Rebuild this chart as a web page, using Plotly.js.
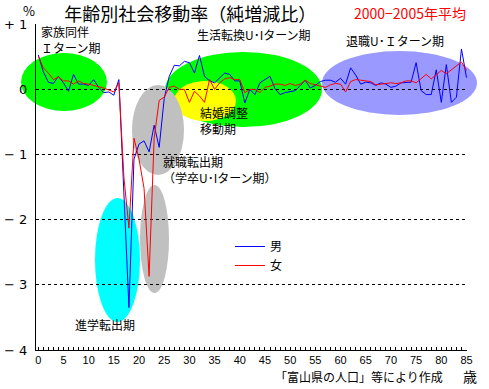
<!DOCTYPE html>
<html><head><meta charset="utf-8">
<script src="https://cdn.plot.ly/plotly-3.0.1.min.js"></script>
<style>body{margin:0;background:#fff}</style>
</head><body><div id="chart" style="width:489px;height:389px"></div>
<script>
const ages = [0,1,2,3,4,5,6,7,8,9,10,11,12,13,14,15,16,17,18,19,20,21,22,23,24,25,26,27,28,29,30,31,32,33,34,35,36,37,38,39,40,41,42,43,44,45,46,47,48,49,50,51,52,53,54,55,56,57,58,59,60,61,62,63,64,65,66,67,68,69,70,71,72,73,74,75,76,77,78,79,80,81,82,83,84,85];
const male = [0.53,0.27,0.11,0.09,0.20,0.10,-0.03,0.23,0.08,0.08,0.06,0.15,0.03,-0.05,-0.04,-0.09,0.15,
  -1.55,-3.35,-1.07,-0.84,-0.79,-0.96,-0.55,-0.89,-0.14,0.20,
  0.37,0.36,0.43,0.41,0.25,0.52,0.20,0.13,0.10,0.18,0.25,0.23,0.13,0.13,-0.21,0.00,-0.08,0.10,0.15,
  0.20,0.01,-0.08,-0.05,-0.04,-0.02,0.06,0.14,0.02,0.06,0.12,0.14,0.14,0.11,0.17,0.08,0.33,0.22,0.08,
  0.11,0.10,0.06,0.10,0.08,0.03,0.05,0.10,0.10,0.11,0.41,-0.02,-0.08,-0.08,0.30,-0.20,0.38,-0.20,-0.12,0.62,0.18];
const female = [0.51,0.33,0.25,0.15,0.19,0.13,0.13,0.08,0.13,0.09,0.08,0.06,0.05,0.02,-0.01,-0.04,0.10,
  -1.35,-2.13,-0.75,-1.07,-1.52,-2.87,-0.75,-0.17,-0.12,0.03,
  0.05,0.00,0.00,-0.20,-0.03,-0.10,-0.20,0.15,0.00,0.10,0.16,0.18,0.15,0.15,-0.05,0.00,0.00,-0.05,0.03,
  0.05,0.08,0.08,0.06,0.09,0.06,0.08,0.14,0.09,0.07,0.04,0.03,0.07,0.09,0.08,-0.04,0.12,0.15,0.14,
  0.13,0.12,0.07,0.08,0.08,0.10,0.09,0.10,0.13,0.13,0.10,0.16,0.23,0.16,0.23,0.29,0.24,0.30,0.37,0.42,0.29];
const yTickVals = [-4,-3,-2,-1,0,1];
const yTickText = ['− 4','− 3','− 2','− 1','0','+ 1'];
const xTickVals = [0,5,10,15,20,25,30,35,40,45,50,55,60,65,70,75,80,85];
const seriesNames = ['男','女'];

const F = '"Noto Sans CJK JP", "DejaVu Sans", sans-serif';

const traces = [
  {x: ages, y: male, name: seriesNames[0], type: 'scatter', mode: 'lines', line: {color: '#0000ff', width: 1}},
  {x: ages, y: female, name: seriesNames[1], type: 'scatter', mode: 'lines', line: {color: '#ff0000', width: 1}}
];

function ell(x0, x1, y0, y1, color) {
  return {type: 'circle', xref: 'paper', yref: 'paper', x0: x0, x1: x1, y0: y0, y1: y1,
    fillcolor: color, line: {width: 0}, layer: 'below'};
}
function ann(text, x, y, xanchor, size, color) {
  return {text: text, xref: 'paper', yref: 'paper', x: x, y: y, xanchor: xanchor || 'left', yanchor: 'middle',
    align: 'left', showarrow: false, font: {family: F, size: size || 12, color: color || '#000'}};
}

const layout = {
  width: 489, height: 389,
  margin: {l: 36, r: 22, t: 24, b: 39},
  paper_bgcolor: '#fff', plot_bgcolor: '#fff',
  font: {family: F, size: 12, color: '#000'},
  title: {text: '年齢別社会移動率（純増減比）', x: 0.389, xanchor: 'center', xref: 'container',
    y: 0.962, yanchor: 'middle', yref: 'container', font: {family: F, size: 18, color: '#000'}},
  showlegend: true,
  legend: {x: 0.45, y: 0.362, xanchor: 'left', yanchor: 'top', bgcolor: 'rgba(0,0,0,0)',
    font: {family: F, size: 12}, itemwidth: 30, tracegroupgap: 0},
  xaxis: {range: [-0.45, 85.1], tickvals: xTickVals, ticks: 'inside', ticklen: 3, tickcolor: '#000',
    minor: {dtick: 1, tick0: 0, ticks: 'inside', ticklen: 3, tickcolor: '#000', showgrid: false},
    showline: true, linecolor: '#000', linewidth: 1, showgrid: false, zeroline: false,
    tickfont: {family: '"Liberation Sans", sans-serif', size: 11, color: '#000'}},
  yaxis: {range: [-4, 1.003], tickvals: yTickVals, ticktext: yTickText, ticks: '',
    showline: true, linecolor: '#000', linewidth: 1, zeroline: false,
    showgrid: true, gridcolor: '#000', gridwidth: 1, griddash: '3px,3px',
    ticklabelstandoff: 5,
    tickfont: {family: '"DejaVu Sans", sans-serif', size: 13, color: '#000'}},
  shapes: [
    ell(-0.0348, 0.1647, 0.7331, 0.9110, '#00ff00'),
    ell(0.2993, 0.6636, 0.6840, 0.9141, '#00ff00'),
    ell(0.6636, 1.0232, 0.7209, 0.9172, '#9999ff'),
    ell(0.3202, 0.4640, 0.7025, 0.8252, '#ffff00'),
    ell(0.2227, 0.3434, 0.5368, 0.8129, '#c0c0c0'),
    ell(0.2413, 0.3086, 0.1748, 0.5061, '#c0c0c0'),
    ell(0.1369, 0.2413, 0.0859, 0.4663, '#00ffff')
  ],
  annotations: [
    ann('%', -0.0162, 1.04, 'center', 13),
    ann('2000−2005年平均', 1.0023, 1.0337, 'right', 14, '#ff0000'),
    ann('家族同伴<br>Ｉターン期', 0.0070, 0.9525, 'left', 12),
    ann('生活転換U･Iターン期', 0.5058, 0.9663, 'center', 12),
    ann('退職U･Ｉターン期', 0.8341, 0.9509, 'center', 12),
    ann('結婚調整<br>移動期', 0.3759, 0.7025, 'left', 12),
    ann('就職転出期<br>（学卒U･Iターン期）', 0.2900, 0.5552, 'left', 12),
    ann('進学転出期', 0.0858, 0.0767, 'left', 12),
    ann('「富山県の人口」等により作成', 0.949, -0.0798, 'right', 12),
    ann('歳', 1.007, -0.0798, 'center', 14)
  ]
};

Plotly.newPlot('chart', traces, layout, {displayModeBar: false, responsive: false});
</script>
</body></html>
